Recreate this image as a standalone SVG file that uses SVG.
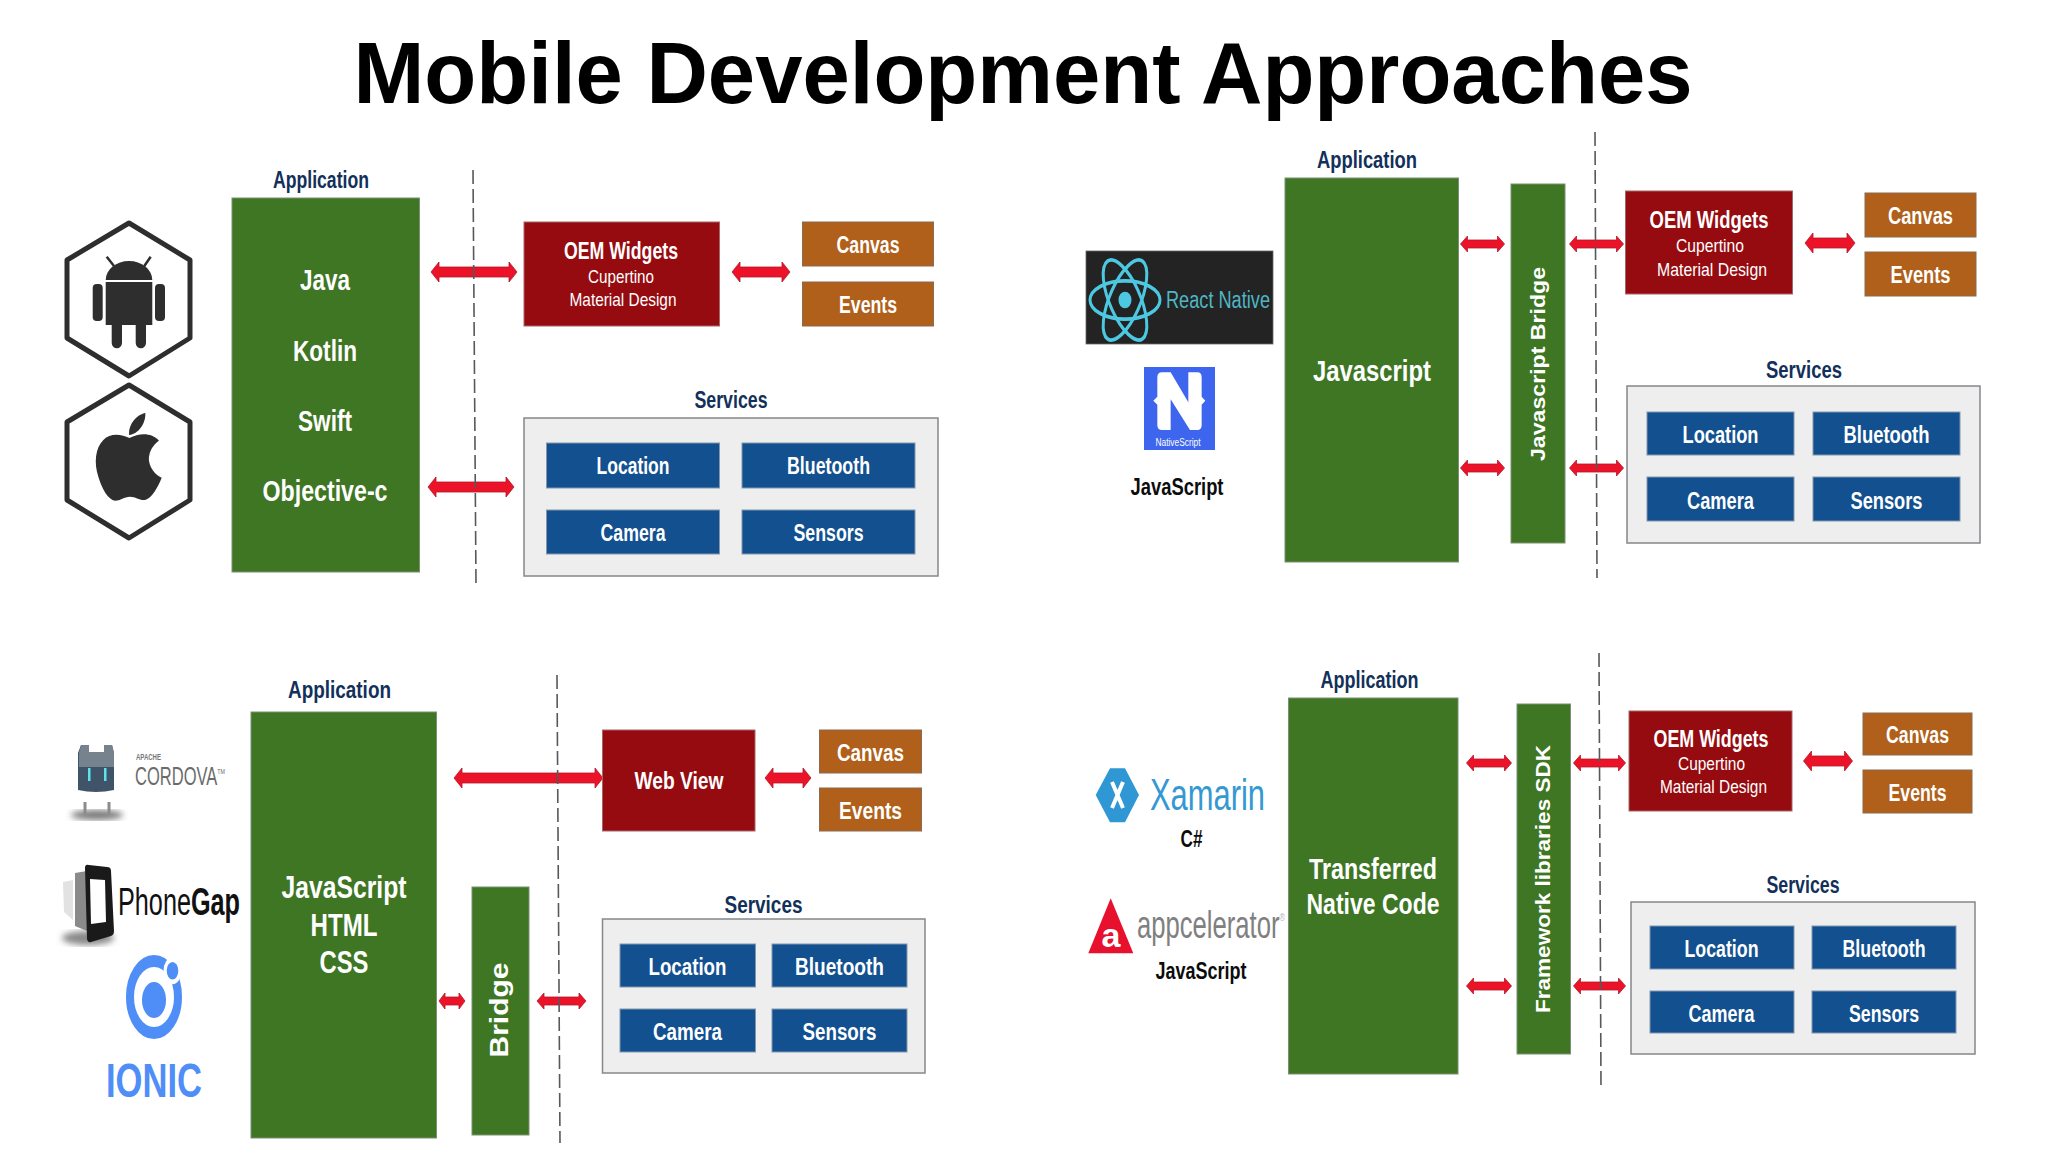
<svg xmlns="http://www.w3.org/2000/svg" width="2048" height="1152" viewBox="0 0 2048 1152">
<style>
text{font-family:"Liberation Sans",Arial,sans-serif;font-weight:700;text-anchor:middle}
text.h,text.k,text.w:not([transform]):not(.t){transform:translateY(1px)}
.g{fill:#3e7624;stroke:#7d8f74;stroke-width:1}
.r{fill:#960b10;stroke:#a5666a;stroke-width:1}
.o{fill:#b0601a;stroke:#8a6a50;stroke-width:1}
.b{fill:#12508f;stroke:#8298ae;stroke-width:1}
.p{fill:#eeeeee;stroke:#85878a;stroke-width:1.5}
.w{fill:#fff}
.h{fill:#12305a;font-size:23px}
.k{fill:#0c0c0c;font-size:23px}
.m{font-size:23px}
.l{font-size:29px}
.t{font-size:19px;font-weight:400}
.v{font-size:20px}
.a{fill:#ec1228;stroke:#b01a2a;stroke-width:.8}
.d{stroke:#55585c;stroke-width:1.6;stroke-dasharray:14 5;fill:none}
.s{fill:none;stroke:#2e2e2e;stroke-width:5;stroke-linejoin:round}
.i{fill:#2e2e2e}
</style>
<defs><filter id="blur"><feGaussianBlur stdDeviation="3"/></filter></defs>
<rect width="2048" height="1152" fill="#fff"/>
<text id="title" x="1023" y="103" style="font-size:87px" fill="#000" textLength="1339" lengthAdjust="spacingAndGlyphs">Mobile Development Approaches</text>

<g id="connectors">
<path class="a" d="M431 272l8-10v5h70v-5l8 10-8 10v-5h-70v5z"/>
<path class="a" d="M428 487l8-10v5h70v-5l8 10-8 10v-5h-70v5z"/>
<path class="a" d="M732 272l8-10v5h42v-5l8 10-8 10v-5h-42v5z"/>
<path class="a" d="M1460.500 244l7-8v4h30v-4l7 8-7 8v-4h-30v4z"/>
<path class="a" d="M1569.500 244l7-8v4h40v-4l7 8-7 8v-4h-40v4z"/>
<path class="a" d="M1460.500 468l7-8v4h30v-4l7 8-7 8v-4h-30v4z"/>
<path class="a" d="M1569.500 468l7-8v4h40v-4l7 8-7 8v-4h-40v4z"/>
<path class="a" d="M1805 243l8-10v5h34v-5l8 10-8 10v-5h-34v5z"/>
<path class="a" d="M454 778l8-10v5h133v-5l8 10-8 10v-5h-133v5z"/>
<path class="a" d="M765 778l8-10v5h30v-5l8 10-8 10v-5h-30v5z"/>
<path class="a" d="M439 1001l6-8v4h14v-4l6 8-6 8v-4h-14v4z"/>
<path class="a" d="M537 1001l7-8v4h35v-4l7 8-7 8v-4h-35v4z"/>
<path class="a" d="M1466.500 763l7-8v4h31v-4l7 8-7 8v-4h-31v4z"/>
<path class="a" d="M1573.500 763l7-8v4h38v-4l7 8-7 8v-4h-38v4z"/>
<path class="a" d="M1466.500 986l7-8v4h31v-4l7 8-7 8v-4h-31v4z"/>
<path class="a" d="M1573.500 986l7-8v4h38v-4l7 8-7 8v-4h-38v4z"/>
<path class="a" d="M1803.500 761l8-10v5h33v-5l8 10-8 10v-5h-33v5z"/>
<path class="d" d="M473 170L476 585"/>
<path class="d" d="M1595 132L1597 578"/>
<path class="d" d="M557 675L560 1143"/>
<path class="d" d="M1599 653L1601 1088"/>
</g>

<g id="native-logos">
<path class="s" d="M129 223L190 260V338L129 376L67 338V260Z"/>
<path class="i" d="M105.700 280a23.300 19 0 0 1 46.600 0ZM105.700 282h46.600v43h-6.300v18a5 5 0 0 1-10.300 0v-18h-13.700v18a5 5 0 0 1-10.300 0v-18h-6z"/>
<rect class="i" x="92.700" y="284" width="10" height="37" rx="4"/>
<rect class="i" x="155" y="284" width="10" height="37" rx="4"/>
<path d="M114 266L106.700 256.700M144.300 266L150.700 256.700" stroke="#2e2e2e" stroke-width="2.500"/>
<path class="s" d="M129 385L190 422V500L129 538L67 500V422Z"/>
<g transform="translate(50 210) scale(.3333)"><path class="i" d="M238 684C215 672 180 668 160 690C135 715 132 760 145 800C155 835 175 870 195 872C212 872 222 860 240 860C258 860 268 872 285 870C305 865 325 830 335 803C305 790 292 755 298 735C302 715 315 700 327 692C305 668 270 668 238 684Z"/><path class="i" d="M237 675C235 640 260 615 286 608C288 640 265 672 237 675Z"/></g>
</g>

<g id="native-app">
<text class="h" x="321" y="187" textLength="96" lengthAdjust="spacingAndGlyphs">Application</text>
<rect class="g" x="232" y="198" width="187.500" height="374"/>
<text class="w l" x="325" y="289" textLength="50" lengthAdjust="spacingAndGlyphs">Java</text>
<text class="w l" x="325" y="360" textLength="64" lengthAdjust="spacingAndGlyphs">Kotlin</text>
<text class="w l" x="325" y="430" textLength="54" lengthAdjust="spacingAndGlyphs">Swift</text>
<text class="w l" x="325" y="500" textLength="125" lengthAdjust="spacingAndGlyphs">Objective-c</text>
</g>
<g id="native-oem">
<rect class="r" x="524" y="222" width="195.500" height="104"/>
<text class="w m" x="621" y="258" textLength="114" lengthAdjust="spacingAndGlyphs">OEM Widgets</text>
<text class="w t" x="621" y="283" textLength="66" lengthAdjust="spacingAndGlyphs">Cupertino</text>
<text class="w t" x="623" y="306" textLength="107" lengthAdjust="spacingAndGlyphs">Material Design</text>
</g>
<g id="native-canvas"><rect class="o" x="802.500" y="222" width="131" height="44"/><text class="w m" x="868" y="252" textLength="63" lengthAdjust="spacingAndGlyphs">Canvas</text></g>
<g id="native-events"><rect class="o" x="802.500" y="282" width="131" height="44"/><text class="w m" x="868" y="312" textLength="58" lengthAdjust="spacingAndGlyphs">Events</text></g>
<g id="native-services">
<text class="h" x="731" y="407" textLength="73" lengthAdjust="spacingAndGlyphs">Services</text>
<rect class="p" x="524" y="418" width="414" height="158"/>
<rect class="b" x="546.500" y="443" width="173" height="45"/><text class="w m" x="633" y="473" textLength="73" lengthAdjust="spacingAndGlyphs">Location</text>
<rect class="b" x="742" y="443" width="173" height="45"/><text class="w m" x="828.500" y="473" textLength="83" lengthAdjust="spacingAndGlyphs">Bluetooth</text>
<rect class="b" x="546.500" y="510" width="173" height="44"/><text class="w m" x="633" y="540" textLength="65" lengthAdjust="spacingAndGlyphs">Camera</text>
<rect class="b" x="742" y="510" width="173" height="44"/><text class="w m" x="828.500" y="540" textLength="70" lengthAdjust="spacingAndGlyphs">Sensors</text>
</g>

<g id="rn-logos">
<rect x="1086" y="251" width="187" height="93" fill="#232323" stroke="#666" stroke-width=".8"/>
<g transform="translate(1125 300) scale(1 1.280)" fill="none" stroke="#4cc8e2" stroke-width="3">
<ellipse rx="35" ry="15"/><ellipse rx="35" ry="15" transform="rotate(60)"/><ellipse rx="35" ry="15" transform="rotate(120)"/>
<circle r="6.500" fill="#4cc8e2" stroke="none"/>
</g>
<text x="1218" y="307.500" style="font-size:23px;font-weight:400" fill="#4fb7c4" textLength="104" lengthAdjust="spacingAndGlyphs">React Native</text>
<rect x="1144" y="367" width="71" height="83" fill="#3d65ed"/>
<g transform="translate(1080 240) scale(.3333)"><path class="w" d="M232 412Q232 397 246 397H272L325 487V397H352Q365 397 365 412V470L376 482L365 494V556Q365 570 352 570H330L272 478V570H246Q232 570 232 556V494L220 482L232 470Z"/></g>
<text class="w" x="1178" y="445" style="font-size:10px;font-weight:400" textLength="45" lengthAdjust="spacingAndGlyphs">NativeScript</text>
<text class="k" x="1177" y="494" textLength="93" lengthAdjust="spacingAndGlyphs">JavaScript</text>
</g>
<g id="rn-app">
<text class="h" x="1367" y="167" textLength="100" lengthAdjust="spacingAndGlyphs">Application</text>
<rect class="g" x="1285" y="178" width="173.500" height="384"/>
<text class="w" style="font-size:30px" x="1372" y="380" textLength="118" lengthAdjust="spacingAndGlyphs">Javascript</text>
</g>
<g id="rn-bridge">
<rect class="g" x="1511" y="184" width="54" height="359"/>
<text class="w v" transform="translate(1545 364) rotate(-90)" textLength="194" lengthAdjust="spacingAndGlyphs">Javascript Bridge</text>
</g>
<g id="rn-oem">
<rect class="r" x="1625.500" y="191" width="167" height="103"/>
<text class="w m" x="1709" y="227" textLength="119" lengthAdjust="spacingAndGlyphs">OEM Widgets</text>
<text class="w t" x="1710" y="252" textLength="68" lengthAdjust="spacingAndGlyphs">Cupertino</text>
<text class="w t" x="1712" y="276" textLength="110" lengthAdjust="spacingAndGlyphs">Material Design</text>
</g>
<g id="rn-canvas"><rect class="o" x="1865" y="193" width="111" height="44"/><text class="w m" x="1920.500" y="223" textLength="65" lengthAdjust="spacingAndGlyphs">Canvas</text></g>
<g id="rn-events"><rect class="o" x="1865" y="252" width="111" height="44"/><text class="w m" x="1920.500" y="282" textLength="60" lengthAdjust="spacingAndGlyphs">Events</text></g>
<g id="rn-services">
<text class="h" x="1804" y="377" textLength="76" lengthAdjust="spacingAndGlyphs">Services</text>
<rect class="p" x="1627" y="386" width="353" height="157"/>
<rect class="b" x="1647" y="412" width="147" height="43"/><text class="w m" x="1720.500" y="442" textLength="76" lengthAdjust="spacingAndGlyphs">Location</text>
<rect class="b" x="1813" y="412" width="147" height="43"/><text class="w m" x="1886.500" y="442" textLength="86" lengthAdjust="spacingAndGlyphs">Bluetooth</text>
<rect class="b" x="1647" y="477" width="147" height="44"/><text class="w m" x="1720.500" y="508" textLength="67" lengthAdjust="spacingAndGlyphs">Camera</text>
<rect class="b" x="1813" y="477" width="147" height="44"/><text class="w m" x="1886.500" y="508" textLength="72" lengthAdjust="spacingAndGlyphs">Sensors</text>
</g>

<g id="hybrid-logos">
<ellipse cx="97" cy="815" rx="26" ry="5" fill="#777" filter="url(#blur)"/>
<path d="M81 745h8v7h15v-7h8l2 8v37q-18 4-36 0v-37z" fill="#3f5468"/>
<path d="M81 745h8v7h15v-7h8l2 8v14h-35v-14z" fill="#76828e"/>
<rect x="88" y="768" width="2.500" height="13" fill="#5fe3e8"/><rect x="104" y="768" width="2.500" height="13" fill="#5fe3e8"/>
<path d="M85 802v13M109 802v13" stroke="#8c8c8c" stroke-width="3"/>
<text x="148.500" y="760" style="font-size:9px;font-weight:700" fill="#777" textLength="25" lengthAdjust="spacingAndGlyphs">APACHE</text>
<text x="180" y="785" style="font-size:25px;font-weight:400" fill="#6b6b6b" textLength="90" lengthAdjust="spacingAndGlyphs">CORDOVA<tspan font-size="8" dy="-11">TM</tspan></text>
<ellipse cx="88" cy="938" rx="26" ry="7" fill="#888" filter="url(#blur)"/>
<path d="M63 882l10-2v40l-9-8z" fill="#e2e2e2"/>
<path d="M75 873l12-2v60l-12-5z" fill="#8a8a8a"/>
<path d="M85 868q0-4 4-3l18 2q4 0 4 4l3 60q0 4-3 5l-20 6q-3 1-4-3z" fill="#1a1a1a"/>
<path d="M90 879l15 1 1 42-15 2z" fill="#fff"/>
<text x="179" y="915" style="font-size:38px" fill="#111" textLength="122" lengthAdjust="spacingAndGlyphs"><tspan font-weight="400">Phone</tspan>Gap</text>
<g transform="translate(154 997) scale(1 1.500)">
<circle r="24" fill="none" stroke="#4f8ef7" stroke-width="8"/>
<circle cx="18.500" cy="-17.500" r="9" fill="#fff"/>
<circle cx="18.500" cy="-17.500" r="5.800" fill="#4f8ef7"/>
<circle cy="2" r="12" fill="#4f8ef7"/>
</g>
<text x="154" y="1097" style="font-size:48px" fill="#4f8ef7" textLength="96" lengthAdjust="spacingAndGlyphs">IONIC</text>
</g>
<g id="hybrid-app">
<text class="h" x="339.500" y="697" textLength="103" lengthAdjust="spacingAndGlyphs">Application</text>
<rect class="g" x="251" y="712" width="185.500" height="426"/>
<text class="w" style="font-size:31px" x="344" y="897" textLength="125" lengthAdjust="spacingAndGlyphs">JavaScript</text>
<text class="w" style="font-size:31px" x="344" y="935" textLength="67" lengthAdjust="spacingAndGlyphs">HTML</text>
<text class="w" style="font-size:31px" x="344" y="972" textLength="49" lengthAdjust="spacingAndGlyphs">CSS</text>
</g>
<g id="hybrid-bridge">
<rect class="g" x="472" y="887" width="57" height="248"/>
<text class="w" style="font-size:26px" transform="translate(508 1010) rotate(-90)" textLength="95" lengthAdjust="spacingAndGlyphs">Bridge</text>
</g>
<g id="hybrid-webview"><rect class="r" x="602.500" y="730" width="152.500" height="101"/><text class="w" style="font-size:24px" x="679" y="788" textLength="89" lengthAdjust="spacingAndGlyphs">Web View</text></g>
<g id="hybrid-canvas"><rect class="o" x="819.500" y="730" width="102" height="43"/><text class="w m" x="870.500" y="760" textLength="67" lengthAdjust="spacingAndGlyphs">Canvas</text></g>
<g id="hybrid-events"><rect class="o" x="819.500" y="788" width="102" height="43"/><text class="w m" x="870.500" y="818" textLength="63" lengthAdjust="spacingAndGlyphs">Events</text></g>
<g id="hybrid-services">
<text class="h" x="763.500" y="912" textLength="78" lengthAdjust="spacingAndGlyphs">Services</text>
<rect class="p" x="602.500" y="919" width="322.500" height="154"/>
<rect class="b" x="620" y="944" width="135.500" height="43"/><text class="w m" x="687.500" y="974" textLength="78" lengthAdjust="spacingAndGlyphs">Location</text>
<rect class="b" x="772" y="944" width="135" height="43"/><text class="w m" x="839.500" y="974" textLength="89" lengthAdjust="spacingAndGlyphs">Bluetooth</text>
<rect class="b" x="620" y="1009" width="135.500" height="43"/><text class="w m" x="687.500" y="1039" textLength="69" lengthAdjust="spacingAndGlyphs">Camera</text>
<rect class="b" x="772" y="1009" width="135" height="43"/><text class="w m" x="839.500" y="1039" textLength="74" lengthAdjust="spacingAndGlyphs">Sensors</text>
</g>

<g id="compiled-logos">
<path d="M1095.700 795L1110 768.300H1125L1139 795L1125 822.300H1110Z" fill="#2f97d3"/>
<path d="M1112 782L1123 808M1123 782L1112 808" stroke="#fff" stroke-width="4" fill="none"/>
<text x="1207.500" y="810" style="font-size:44px;font-weight:400" fill="#3498d3" textLength="115" lengthAdjust="spacingAndGlyphs">Xamarin</text>
<text class="k" x="1191.500" y="846" textLength="22" lengthAdjust="spacingAndGlyphs">C#</text>
<path d="M1110.700 898.300L1133.300 953.300H1088.300Z" fill="#e8112d"/>
<text class="w" x="1111" y="946" style="font-size:34px">a</text>
<text x="1211" y="938" style="font-size:38px;font-weight:400" fill="#808080" textLength="148" lengthAdjust="spacingAndGlyphs">appcelerator<tspan font-size="11" dy="-17" fill="#b8b8b8">®</tspan></text>
<text class="k" x="1201" y="978" textLength="91" lengthAdjust="spacingAndGlyphs">JavaScript</text>
</g>
<g id="compiled-app">
<text class="h" x="1369.500" y="687" textLength="98" lengthAdjust="spacingAndGlyphs">Application</text>
<rect class="g" x="1288.500" y="698" width="169.500" height="376"/>
<text class="w" style="font-size:30px" x="1373" y="878" textLength="128" lengthAdjust="spacingAndGlyphs">Transferred</text>
<text class="w" style="font-size:30px" x="1373" y="913" textLength="133" lengthAdjust="spacingAndGlyphs">Native Code</text>
</g>
<g id="compiled-sdk">
<rect class="g" x="1517" y="704" width="53.500" height="350"/>
<text class="w v" transform="translate(1550 879) rotate(-90)" textLength="268" lengthAdjust="spacingAndGlyphs">Framework libraries SDK</text>
</g>
<g id="compiled-oem">
<rect class="r" x="1629" y="711" width="163" height="100"/>
<text class="w m" x="1711" y="746" textLength="115" lengthAdjust="spacingAndGlyphs">OEM Widgets</text>
<text class="w t" x="1711.500" y="770" textLength="67" lengthAdjust="spacingAndGlyphs">Cupertino</text>
<text class="w t" x="1713.500" y="793" textLength="107" lengthAdjust="spacingAndGlyphs">Material Design</text>
</g>
<g id="compiled-canvas"><rect class="o" x="1863" y="713" width="109" height="42"/><text class="w m" x="1917.500" y="742" textLength="63" lengthAdjust="spacingAndGlyphs">Canvas</text></g>
<g id="compiled-events"><rect class="o" x="1863" y="770" width="109" height="43"/><text class="w m" x="1917.500" y="800" textLength="58" lengthAdjust="spacingAndGlyphs">Events</text></g>
<g id="compiled-services">
<text class="h" x="1803" y="892" textLength="73" lengthAdjust="spacingAndGlyphs">Services</text>
<rect class="p" x="1631" y="902" width="344" height="152"/>
<rect class="b" x="1650" y="926" width="144" height="43"/><text class="w m" x="1721.500" y="956" textLength="74" lengthAdjust="spacingAndGlyphs">Location</text>
<rect class="b" x="1812" y="926" width="144" height="43"/><text class="w m" x="1884" y="956" textLength="83" lengthAdjust="spacingAndGlyphs">Bluetooth</text>
<rect class="b" x="1650" y="991" width="144" height="42"/><text class="w m" x="1721.500" y="1021" textLength="66" lengthAdjust="spacingAndGlyphs">Camera</text>
<rect class="b" x="1812" y="991" width="144" height="42"/><text class="w m" x="1884" y="1021" textLength="70" lengthAdjust="spacingAndGlyphs">Sensors</text>
</g>
</svg>
